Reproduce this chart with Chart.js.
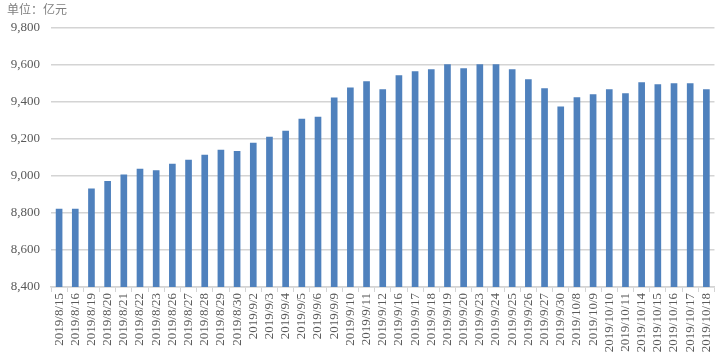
<!DOCTYPE html>
<html>
<head>
<meta charset="utf-8">
<script src="https://cdn.jsdelivr.net/npm/chart.js@4"></script>
<style>
  html, body { margin: 0; padding: 0; background: #fff; }
  #wrap { width: 723px; height: 356px; }
</style>
</head>
<body>
<div id="wrap"><canvas id="balanceChart"></canvas></div>
<script>
// dates and balances (亿元)
var dates = ['2019/8/15', '2019/8/16', '2019/8/19', '2019/8/20', '2019/8/21', '2019/8/22', '2019/8/23', '2019/8/26', '2019/8/27', '2019/8/28', '2019/8/29', '2019/8/30',
    '2019/9/2', '2019/9/3', '2019/9/4', '2019/9/5', '2019/9/6', '2019/9/9', '2019/9/10', '2019/9/11', '2019/9/12', '2019/9/16', '2019/9/17', '2019/9/18', '2019/9/19', '2019/9/20', '2019/9/23',
    '2019/9/24', '2019/9/25', '2019/9/26', '2019/9/27', '2019/9/30',
    '2019/10/8', '2019/10/9', '2019/10/10', '2019/10/11', '2019/10/14', '2019/10/15', '2019/10/16', '2019/10/17', '2019/10/18'];
var balances = [8820, 8820, 8930, 8970, 9005, 9036, 9028, 9063, 9085, 9112, 9139, 9132,
    9176, 9208, 9241, 9306, 9317, 9420, 9474, 9508, 9465, 9540, 9562, 9573, 9600, 9578, 9600,
    9600, 9573, 9519, 9470, 9371,
    9422, 9438, 9465, 9443, 9503, 9492, 9497, 9497, 9465];
var yMin = 8400, yMax = 9800, yStep = 200;
var unitLabel = '单位：亿元';

var serif = '"Times New Roman", "Liberation Serif", "DejaVu Serif", serif';

document.addEventListener('DOMContentLoaded', function () {
    var ctx = document.getElementById('balanceChart').getContext('2d');
    new Chart(ctx, {
        type: 'bar',
        data: {
            labels: dates,
            datasets: [{
                data: balances,
                backgroundColor: '#4f81bd',
                barThickness: 6
            }]
        },
        options: {
            responsive: true,
            maintainAspectRatio: false,
            animation: false,
            layout: { padding: { left: 7, right: 2, top: 2, bottom: 0 } },
            plugins: {
                legend: { display: false },
                tooltip: { enabled: false },
                title: {
                    display: true,
                    text: unitLabel,
                    align: 'start',
                    color: '#7f7f7f',
                    font: { family: '"Noto Sans CJK SC", sans-serif', size: 12, weight: 'normal' },
                    padding: { top: 0, bottom: 11 }
                }
            },
            scales: {
                x: {
                    grid: { drawOnChartArea: false, drawTicks: true, tickLength: 5, color: '#d4d4d4', offset: true },
                    border: { display: true, color: '#d4d4d4', width: 1.5 },
                    ticks: {
                        autoSkip: false,
                        minRotation: 90,
                        maxRotation: 90,
                        padding: 1,
                        color: '#595959',
                        font: { family: serif, size: 13 }
                    },
                    afterFit: function (scale) { scale.height = 69; }
                },
                y: {
                    min: yMin,
                    max: yMax,
                    grid: { color: '#d4d4d4', lineWidth: 1.5, drawTicks: false },
                    border: { display: false },
                    ticks: {
                        stepSize: yStep,
                        padding: 11,
                        color: '#595959',
                        font: { family: serif, size: 13 },
                        callback: function (v) { return v.toLocaleString('en-US'); }
                    },
                    afterFit: function (scale) { scale.width = 44; }
                }
            }
        }
    });
});
</script>
</body>
</html>
